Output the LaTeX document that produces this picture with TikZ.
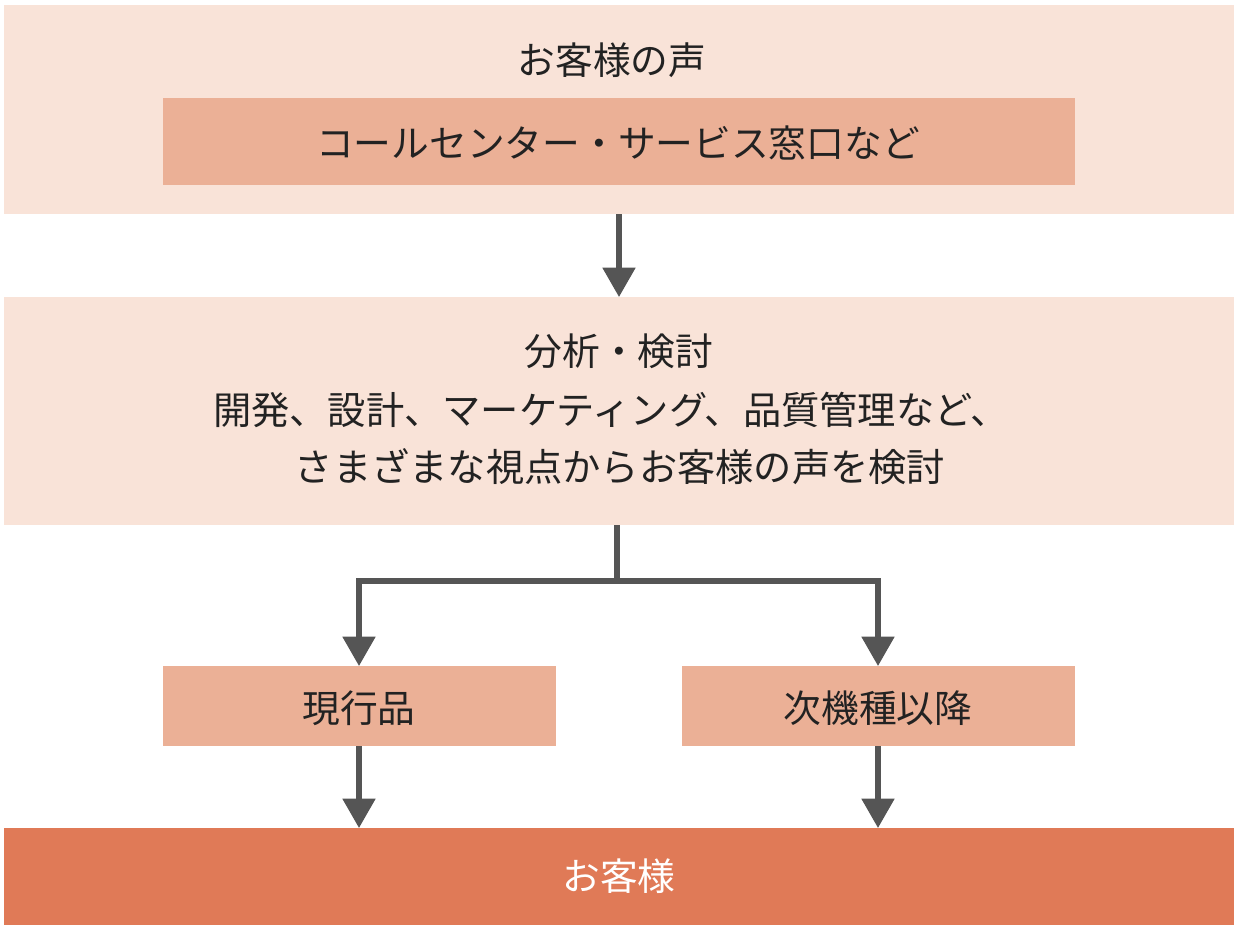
\documentclass[tikz,border=0pt]{standalone}
\usepackage{fontspec}
\setmainfont{Noto Sans CJK JP}
\usetikzlibrary{arrows.meta}
\definecolor{boxlight}{HTML}{F9E3D8}
\definecolor{boxmid}{HTML}{EBB096}
\definecolor{boxdark}{HTML}{E07A57}
\definecolor{arrowgray}{HTML}{555555}
\definecolor{textdark}{HTML}{222222}
\tikzset{
  lightbox/.style={fill=boxlight, draw=none},
  midbox/.style={fill=boxmid, draw=none},
  darkbox/.style={fill=boxdark, draw=none},
  lbl/.style={font=\fontsize{28.3pt}{40pt}\selectfont, text=textdark, inner sep=0pt, align=center},
  lblwide/.style={lbl, font=\fontsize{28.7pt}{40pt}\selectfont},
  conn/.style={draw=arrowgray, line width=3.8pt, -{Triangle[width=24pt,length=22pt]}},
  connplain/.style={draw=arrowgray, line width=3.8pt},
}
\begin{document}
\begin{tikzpicture}[x=0.75pt,y=-0.75pt]
\useasboundingbox[fill=white] (0,0) rectangle (1240,931);
% boxes
\path[lightbox] (4,5) rectangle (1234,214);
\path[midbox] (163,98) rectangle (1075,185);
\path[lightbox] (4,297) rectangle (1234,525);
\path[midbox] (163,666) rectangle (556,746);
\path[midbox] (682,666) rectangle (1075,746);
\path[darkbox] (4,828) rectangle (1234,925);
% anchor coordinates
\coordinate (topB) at (619,214);
\coordinate (midT) at (619,297);
\coordinate (midB) at (617,525);
\coordinate (split) at (617,581);
\coordinate (lT) at (359,666);
\coordinate (rT) at (878,666);
\coordinate (lB) at (359,746);
\coordinate (rB) at (878,746);
\coordinate (botL) at (359,828);
\coordinate (botR) at (878,828);
% texts
\node[lbl] (t1) at (612,60) {お客様の声};
\node[lbl] (t2) at (618,143) {コールセンター・サービス窓口など};
\node[lbl] (t3) at (619,351) {分析・検討};
\node[lblwide] (t4) at (611,410) {開発、設計、マーケティング、品質管理など、};
\node[lblwide] (t5) at (620,467) {さまざまな視点からお客様の声を検討};
\node[lbl] (t6) at (359,708) {現行品};
\node[lbl] (t7) at (878,708) {次機種以降};
\node[lbl, text=white] (t8) at (619,876) {お客様};
% connectors
\draw[conn] (topB) -- (midT);
\draw[connplain] (midB) -- (split);
\draw[conn] (split) -| (lT);
\draw[conn] (split) -| (rT);
\draw[conn] (lB) -- (botL);
\draw[conn] (rB) -- (botR);
\end{tikzpicture}
\end{document}
